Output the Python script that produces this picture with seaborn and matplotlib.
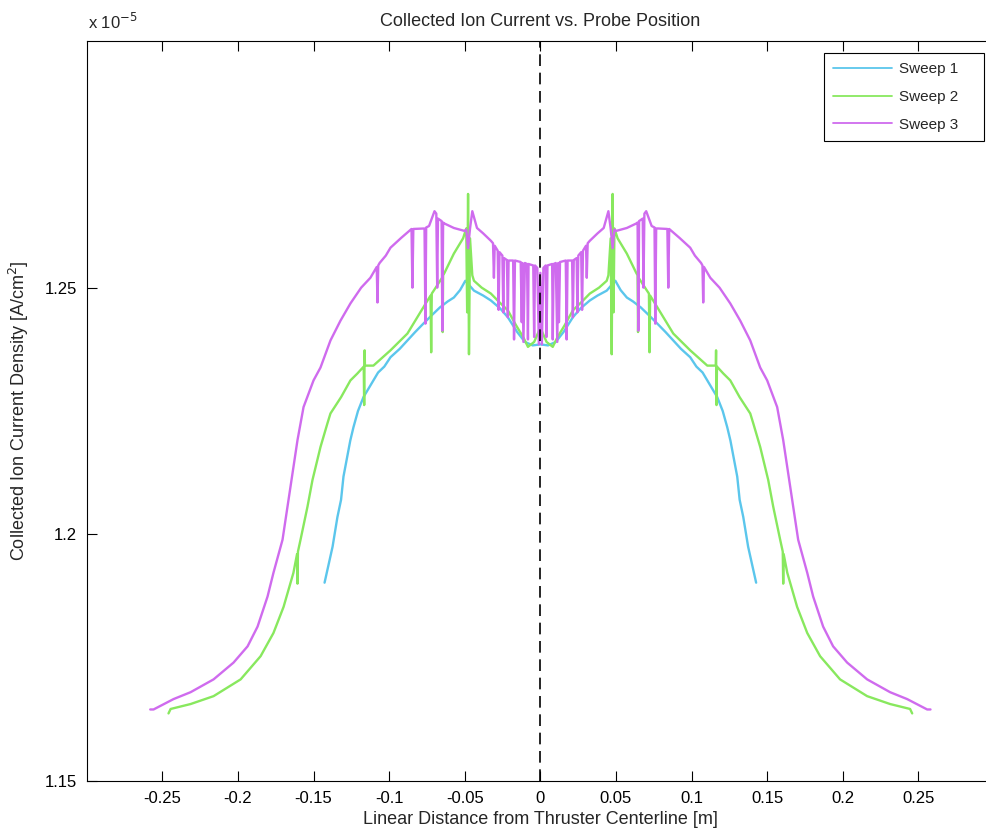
import numpy as np
import pandas as pd
import matplotlib
matplotlib.use("Agg")
import matplotlib.pyplot as plt
import seaborn as sns

# ---- data (right half; the profile is mirror-symmetric about 0) ----
# values in units of 1e-5 A/cm^2, x in m
s1_x = [0.0000, 0.0051, 0.0102, 0.0153, 0.0215, 0.0266, 0.0327, 0.0378, 0.0439, 0.0470,
        0.0496, 0.0531, 0.0572, 0.0613, 0.0664, 0.0715, 0.0774, 0.0828, 0.0879, 0.0930,
        0.0991, 0.1032, 0.1073, 0.1104, 0.1170, 0.1206, 0.1236, 0.1257, 0.1302, 0.1318,
        0.1342, 0.1374, 0.1427]
s1_y = [1.2385, 1.2383, 1.2390, 1.2410, 1.2440, 1.2458, 1.2474, 1.2484, 1.2494, 1.2505,
        1.2514, 1.2495, 1.2480, 1.2472, 1.2460, 1.2445, 1.2427, 1.2410, 1.2393, 1.2376,
        1.2359, 1.2340, 1.2328, 1.2312, 1.2278, 1.2250, 1.2217, 1.2190, 1.2117, 1.2070,
        1.2035, 1.1975, 1.1902]

s2_x = [0.0000, 0.0041, 0.0082, 0.0112, 0.0163, 0.0215, 0.0276, 0.0327, 0.0388, 0.0439,
        0.0450, 0.0465, 0.0472, 0.0478, 0.0484, 0.0490, 0.0511, 0.0572, 0.0634, 0.0643,
        0.0646, 0.0650, 0.0705, 0.0718, 0.0722, 0.0726, 0.0774, 0.0879, 0.0991, 0.1104,
        0.1160, 0.1162, 0.1165, 0.1168, 0.1210, 0.1256, 0.1318, 0.1388, 0.1408, 0.1454,
        0.1507, 0.1540, 0.1586, 0.1603, 0.1606, 0.1609, 0.1633, 0.1698, 0.1765, 0.1850,
        0.1982, 0.2161, 0.2313, 0.2445, 0.2459]
s2_y = [1.2419, 1.2390, 1.2380, 1.2399, 1.2425, 1.2454, 1.2472, 1.2488, 1.2500, 1.2514,
        1.2525, 1.2600, 1.2365, 1.2690, 1.2450, 1.2620, 1.2600, 1.2569, 1.2530, 1.2525,
        1.2410, 1.2520, 1.2494, 1.2488, 1.2369, 1.2484, 1.2460, 1.2407, 1.2373, 1.2342,
        1.2342, 1.2373, 1.2262, 1.2340, 1.2326, 1.2312, 1.2278, 1.2245, 1.2225, 1.2177,
        1.2110, 1.2056, 1.1989, 1.1965, 1.1900, 1.1960, 1.1922, 1.1853, 1.1800, 1.1753,
        1.1706, 1.1672, 1.1656, 1.1646, 1.1637]

s3_x = [0.0000, 0.0010, 0.0020, 0.0035, 0.0041, 0.0047, 0.0078, 0.0082, 0.0088, 0.0102,
        0.0112, 0.0118, 0.0123, 0.0130, 0.0168, 0.0174, 0.0180, 0.0210, 0.0215, 0.0221,
        0.0240, 0.0245, 0.0251, 0.0270, 0.0276, 0.0282, 0.0302, 0.0307, 0.0313, 0.0327,
        0.0378, 0.0419, 0.0450, 0.0465, 0.0478, 0.0490, 0.0501, 0.0572, 0.0634, 0.0643,
        0.0648, 0.0653, 0.0677, 0.0682, 0.0688, 0.0700, 0.0736, 0.0755, 0.0760, 0.0766,
        0.0777, 0.0840, 0.0846, 0.0852, 0.0920, 0.0991, 0.1022, 0.1063, 0.1072, 0.1077,
        0.1082, 0.1124, 0.1185, 0.1256, 0.1322, 0.1388, 0.1454, 0.1500, 0.1566, 0.1606,
        0.1639, 0.1672, 0.1705, 0.1765, 0.1804, 0.1870, 0.1936, 0.2029, 0.2161, 0.2313,
        0.2426, 0.2558, 0.2580]
s3_y = [1.2530, 1.2385, 1.2540, 1.2545, 1.2400, 1.2545, 1.2548, 1.2395, 1.2548, 1.2550,
        1.2390, 1.2550, 1.2430, 1.2552, 1.2555, 1.2395, 1.2555, 1.2555, 1.2440, 1.2556,
        1.2560, 1.2450, 1.2565, 1.2572, 1.2455, 1.2575, 1.2585, 1.2520, 1.2590, 1.2595,
        1.2610, 1.2621, 1.2655, 1.2620, 1.2580, 1.2618, 1.2615, 1.2621, 1.2630, 1.2632,
        1.2413, 1.2635, 1.2640, 1.2500, 1.2650, 1.2655, 1.2625, 1.2622, 1.2427, 1.2620,
        1.2620, 1.2619, 1.2500, 1.2619, 1.2601, 1.2581, 1.2565, 1.2550, 1.2545, 1.2470,
        1.2542, 1.2520, 1.2500, 1.2468, 1.2433, 1.2393, 1.2338, 1.2312, 1.2258, 1.2191,
        1.2124, 1.2056, 1.1989, 1.1922, 1.1874, 1.1813, 1.1773, 1.1740, 1.1706, 1.1680,
        1.1666, 1.1645, 1.1645]

sweep_names = ["Sweep 1", "Sweep 2", "Sweep 3"]
colors = ["#5BC6EC", "#88E85E", "#CF6BEE"]
x_ticks = [-0.25, -0.2, -0.15, -0.1, -0.05, 0, 0.05, 0.1, 0.15, 0.2, 0.25]
x_ticklabels = ["-0.25", "-0.2", "-0.15", "-0.1", "-0.05", "0", "0.05", "0.1", "0.15", "0.2", "0.25"]
y_ticks = [1.15, 1.2, 1.25]
y_ticklabels = ["1.15", "1.2", "1.25"]


def mirror(xs, ys):
    xs = np.asarray(xs); ys = np.asarray(ys)
    return (np.concatenate([-xs[:0:-1], xs]), np.concatenate([ys[:0:-1], ys]))


frames = []
for name, xs, ys in zip(sweep_names, [s1_x, s2_x, s3_x], [s1_y, s2_y, s3_y]):
    fx, fy = mirror(xs, ys)
    frames.append(pd.DataFrame({"x": fx, "y": fy, "Sweep": name}))
df = pd.concat(frames, ignore_index=True)

sns.set_style("ticks")
plt.rcParams["font.family"] = ["Liberation Sans", "DejaVu Sans"]

fig = plt.figure(figsize=(9.86, 8.35), dpi=100)
ax = fig.add_axes([86.7 / 986, 1 - 781 / 835, (994 - 86.7) / 986, (781 - 41) / 835])

sns.lineplot(data=df, x="x", y="y", hue="Sweep", palette=colors, estimator=None,
             sort=False, linewidth=1.7, ax=ax, legend=True)

ax.axvline(0, color="black", linestyle=(0, (7, 4)), linewidth=1.2)

ax.set_xlim(-0.3, 0.3)
ax.set_ylim(1.15, 1.30)
ax.set_xticks(x_ticks)
ax.set_xticklabels(x_ticklabels)
ax.set_yticks(y_ticks)
ax.set_yticklabels(y_ticklabels)
ax.tick_params(direction="in", length=7, width=0.8, top=True, right=False,
               labelsize=12, pad=7, colors="black")
for sp in ax.spines.values():
    sp.set_visible(True)
    sp.set_linewidth(0.8)
    sp.set_color("black")

ax.set_xlabel("Linear Distance from Thruster Centerline [m]", fontsize=13, labelpad=4)
ax.set_ylabel("Collected Ion Current Density [A/cm$^2$]", fontsize=13, labelpad=10)
ax.set_title("Collected Ion Current vs. Probe Position", fontsize=13, pad=11)
fig.text(88 / 986, 1 - 32 / 835, "x 10$^{-5}$", fontsize=12, ha="left", va="bottom")

handles, labels = ax.get_legend_handles_labels()
labels = [lab + "    " for lab in labels]
leg = ax.legend(handles, labels, loc="upper right", bbox_to_anchor=(984 / 986, 1 - 53 / 835),
                bbox_transform=fig.transFigure, borderaxespad=0, fontsize=11,
                frameon=True, fancybox=False, framealpha=1, edgecolor="black",
                handlelength=3.9, handletextpad=0.4, labelspacing=0.9, borderpad=0.6)
leg.get_frame().set_linewidth(0.8)
for line in leg.get_lines():
    line.set_linewidth(1.3)

fig.savefig("out.png", dpi=100)
